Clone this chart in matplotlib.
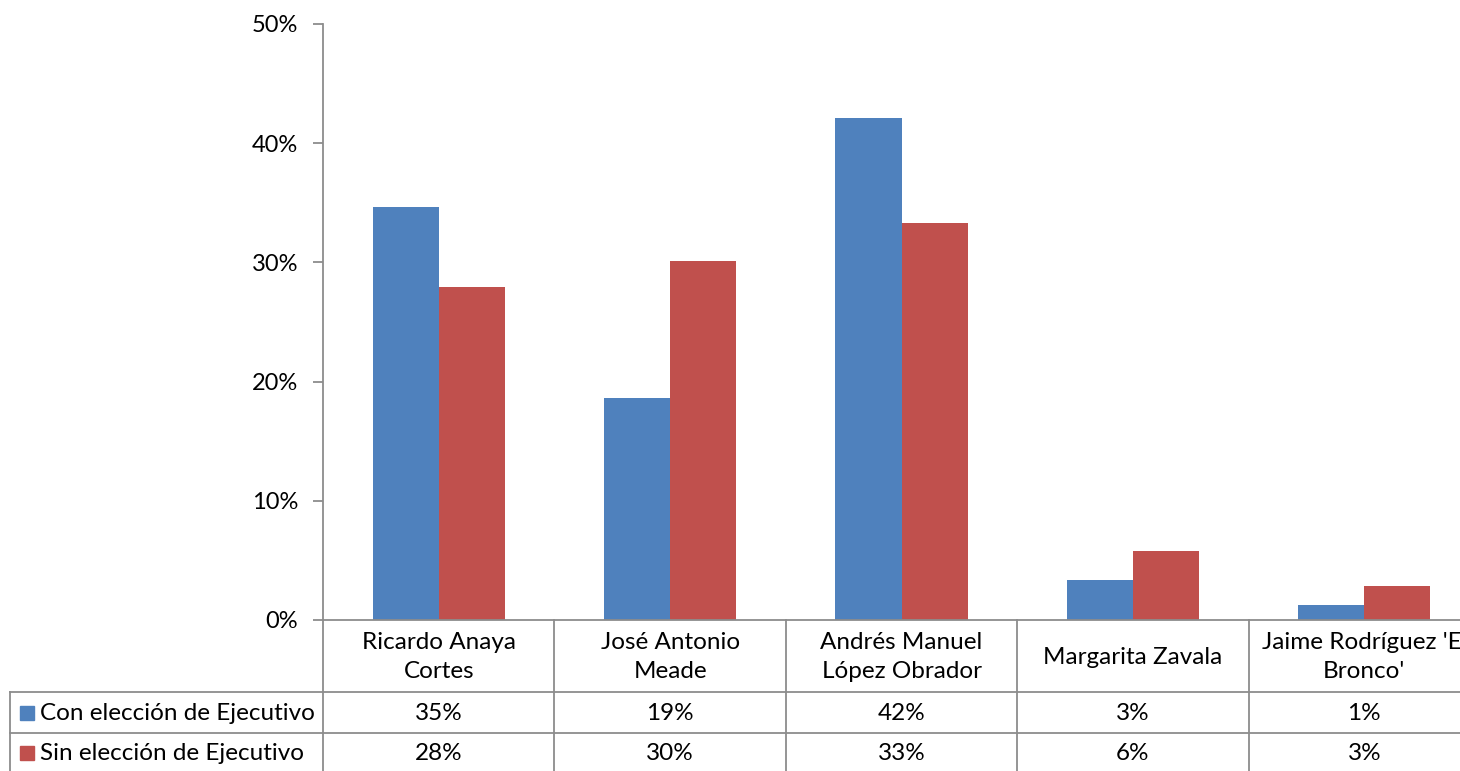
import numpy as np
import matplotlib
matplotlib.use('Agg')
import matplotlib.pyplot as plt
import matplotlib.transforms as mtransforms
from matplotlib.lines import Line2D
from matplotlib.patches import Rectangle

plt.rcParams['font.family'] = ['Lato', 'DejaVu Sans']

categories = ["Ricardo Anaya\nCortes", "José Antonio\nMeade", "Andrés Manuel\nLópez Obrador",
              "Margarita Zavala", "Jaime Rodríguez 'El\nBronco'"]
series_names = ["Con elección de Ejecutivo", "Sin elección de Ejecutivo"]
con_eleccion = [0.3465, 0.186, 0.421, 0.0335, 0.0126]
sin_eleccion = [0.279, 0.301, 0.333, 0.058, 0.0285]
con_labels = ["35%", "19%", "42%", "3%", "1%"]
sin_labels = ["28%", "30%", "33%", "6%", "3%"]
colors = ['#4F81BD', '#C0504D']
grid_col = '#8C8C8C'
fs = 17.5

W, H = 1460, 771
fig = plt.figure(figsize=(W / 100, H / 100), dpi=100)
ax = fig.add_axes([323 / W, (H - 620) / H, (1480 - 323) / W, (620 - 24) / H])

x = np.arange(len(categories))
bw = 1 / 3.5
ax.bar(x - bw / 2, con_eleccion, bw, color=colors[0])
ax.bar(x + bw / 2, sin_eleccion, bw, color=colors[1])

ax.set_xlim(-0.5, len(categories) - 0.5)
ax.set_ylim(0, 0.5)
ax.set_yticks(np.arange(0, 0.51, 0.1))
ax.set_yticklabels([f"{int(round(v * 100))}%" for v in np.arange(0, 0.51, 0.1)], fontsize=17)
ax.set_xticks([])
for s in ['top', 'right']:
    ax.spines[s].set_visible(False)
for s in ['left', 'bottom']:
    ax.spines[s].set_color(grid_col)
    ax.spines[s].set_linewidth(1.3)
ax.tick_params(axis='y', length=7, width=1.3, color=grid_col, pad=11)

# data table below the axis
def fy(py):
    return (H - py) / H

def fx(px):
    return px / W

blend = mtransforms.blended_transform_factory(ax.transData, fig.transFigure)
for py in [692, 733]:
    fig.add_artist(Line2D([fx(10), 1.0], [fy(py), fy(py)], color=grid_col, lw=1.3,
                          transform=fig.transFigure))
fig.add_artist(Line2D([fx(10), fx(10)], [fy(692), fy(771)], color=grid_col, lw=1.3,
                      transform=fig.transFigure))
for b in np.arange(-0.5, len(categories) + 0.5, 1.0):
    fig.add_artist(Line2D([b, b], [fy(620), fy(771)], color=grid_col, lw=1.3,
                          transform=blend, clip_on=False))

for i, cat in enumerate(categories):
    fig.text(x[i], fy(657), cat, transform=blend, ha='center', va='center',
             fontsize=fs, linespacing=1.45)
    fig.text(x[i], fy(714), con_labels[i], transform=blend, ha='center', va='center', fontsize=fs)
    fig.text(x[i], fy(754), sin_labels[i], transform=blend, ha='center', va='center', fontsize=fs)

for j, (name, py) in enumerate(zip(series_names, [713, 753])):
    fig.add_artist(Rectangle((fx(20), fy(py + 7)), 14 / W, 14 / H, color=colors[j],
                             transform=fig.transFigure))
    fig.text(fx(40), fy(py + 1), name, ha='left', va='center', fontsize=fs)

fig.savefig('out.png', dpi=100)
